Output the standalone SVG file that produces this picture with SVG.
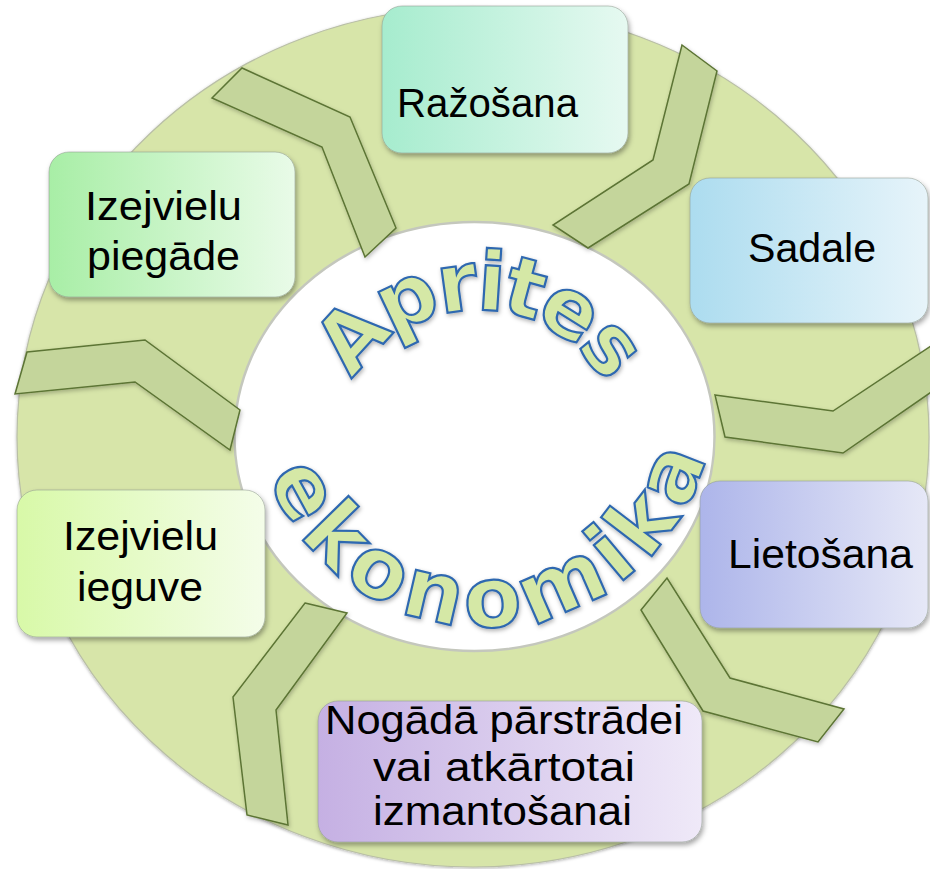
<svg xmlns="http://www.w3.org/2000/svg" width="930" height="869" viewBox="0 0 930 869">
  <defs>
    <style>
      .box { stroke: #8f9a8f; stroke-opacity: 0.55; stroke-width: 1; filter: url(#shadow); }
      .lbl { font-family: "Liberation Sans", Arial, sans-serif; font-size: 41px; fill: #000; text-anchor: middle; }
      .chev { fill: #c4d59b; stroke: #5c7434; stroke-width: 1.5; stroke-linejoin: miter; filter: url(#cshadow); }
      .arc { font-family: "DejaVu Sans", Verdana, sans-serif; font-weight: bold; fill: #d5e8a6; stroke: #2f68b0; stroke-width: 2.2; filter: url(#tshadow); }
    </style>
    <filter id="shadow" x="-10%" y="-10%" width="125%" height="130%">
      <feDropShadow dx="1.5" dy="3" stdDeviation="2.5" flood-color="#000" flood-opacity="0.35"/>
    </filter>
    <filter id="cshadow" x="-10%" y="-10%" width="125%" height="130%">
      <feDropShadow dx="1" dy="2" stdDeviation="2" flood-color="#000" flood-opacity="0.25"/>
    </filter>
    <filter id="tshadow" x="-10%" y="-10%" width="125%" height="130%">
      <feDropShadow dx="1" dy="2" stdDeviation="2" flood-color="#000" flood-opacity="0.3"/>
    </filter>
    <filter id="ringsh" x="-5%" y="-5%" width="110%" height="110%">
      <feDropShadow dx="0" dy="1" stdDeviation="1.5" flood-color="#000" flood-opacity="0.3"/>
    </filter>
    <linearGradient id="gRaz" x1="0" y1="0" x2="1" y2="0"><stop offset="0" stop-color="#a6ecce"/><stop offset="1" stop-color="#e6f9f1"/></linearGradient>
    <linearGradient id="gSad" x1="0" y1="0" x2="1" y2="0"><stop offset="0" stop-color="#acdcef"/><stop offset="1" stop-color="#e7f4fa"/></linearGradient>
    <linearGradient id="gLie" x1="0" y1="0" x2="1" y2="0"><stop offset="0" stop-color="#adb5ea"/><stop offset="1" stop-color="#e6e8f7"/></linearGradient>
    <linearGradient id="gNog" x1="0" y1="0" x2="1" y2="0"><stop offset="0" stop-color="#c5b0e3"/><stop offset="1" stop-color="#efe9f8"/></linearGradient>
    <linearGradient id="gIeg" x1="0" y1="0" x2="1" y2="0"><stop offset="0" stop-color="#d8f9a8"/><stop offset="1" stop-color="#f4fde9"/></linearGradient>
    <linearGradient id="gPie" x1="0" y1="0" x2="1" y2="0"><stop offset="0" stop-color="#a8eea6"/><stop offset="1" stop-color="#e9fbe8"/></linearGradient>
    <path id="arcTop" d="M 352.4 382.5 A 145 145 0 0 1 603.6 382.5"/>
    <path id="arcBot" d="M 257.5 436.9 A 230 230 0 0 0 713.7 408.2"/>
  </defs>

  <rect x="0" y="0" width="930" height="869" fill="#ffffff"/>

  <g id="ring">
    <ellipse cx="473" cy="437" rx="456" ry="430" fill="#d7e5a9" stroke="#b9bfa6" stroke-width="1.2" filter="url(#ringsh)"/>
    <ellipse cx="474.5" cy="436.5" rx="240" ry="214.5" fill="#ffffff" stroke="#c4c7bd" stroke-width="2.5"/>
  </g>

  <g id="connectors">
    <polygon class="chev" points="212,98 242,68 350,117 396,228 365,257 322,147"/>
    <polygon class="chev" points="682,45 717,71 689,184 588,248 553,225 653,160"/>
    <polygon class="chev" points="715,395 833,411 940,340 940,386 843,453 725,437"/>
    <polygon class="chev" points="641,610 667,578 730,678 844,709 818,742 703,711"/>
    <polygon class="chev" points="305,603 347,613 276,710 288,825 247,815 233,697"/>
    <polygon class="chev" points="27,352 145,340 240,410 230,450 135,382 15,394"/>
  </g>

  <g id="node-razosana">
    <rect class="box" x="382" y="6" width="246" height="147" rx="20" fill="url(#gRaz)"/>
    <text class="lbl" x="487.5" y="117" textLength="181" lengthAdjust="spacingAndGlyphs">Ražošana</text>
  </g>
  <g id="node-sadale">
    <rect class="box" x="690" y="178" width="238" height="145" rx="20" fill="url(#gSad)"/>
    <text class="lbl" x="812" y="262" textLength="128" lengthAdjust="spacingAndGlyphs">Sadale</text>
  </g>
  <g id="node-lietosana">
    <rect class="box" x="700" y="481" width="228" height="147" rx="20" fill="url(#gLie)"/>
    <text class="lbl" x="820.5" y="568" textLength="185" lengthAdjust="spacingAndGlyphs">Lietošana</text>
  </g>
  <g id="node-nogada">
    <rect class="box" x="318" y="701" width="384" height="141" rx="20" fill="url(#gNog)"/>
    <text class="lbl" x="504" y="734" textLength="358" lengthAdjust="spacingAndGlyphs">Nogādā pārstrādei</text>
    <text class="lbl" x="504" y="781" textLength="262" lengthAdjust="spacingAndGlyphs">vai atkārtotai</text>
    <text class="lbl" x="502.5" y="825" textLength="259" lengthAdjust="spacingAndGlyphs">izmantošanai</text>
  </g>
  <g id="node-ieguve">
    <rect class="box" x="17" y="490" width="248" height="147" rx="20" fill="url(#gIeg)"/>
    <text class="lbl" x="140.5" y="550" textLength="155" lengthAdjust="spacingAndGlyphs">Izejvielu</text>
    <text class="lbl" x="140" y="601" textLength="126" lengthAdjust="spacingAndGlyphs">ieguve</text>
  </g>
  <g id="node-piegade">
    <rect class="box" x="49" y="152" width="246" height="145" rx="20" fill="url(#gPie)"/>
    <text class="lbl" x="163.5" y="220" textLength="157" lengthAdjust="spacingAndGlyphs">Izejvielu</text>
    <text class="lbl" x="163.5" y="270" textLength="153" lengthAdjust="spacingAndGlyphs">piegāde</text>
  </g>

  <g id="title">
    <text class="arc" font-size="82" letter-spacing="-5"><textPath href="#arcTop" startOffset="50%" text-anchor="middle">Aprites</textPath></text>
    <text class="arc" font-size="84" letter-spacing="8"><textPath href="#arcBot" startOffset="50%" text-anchor="middle">ekonomika</textPath></text>
  </g>
</svg>
